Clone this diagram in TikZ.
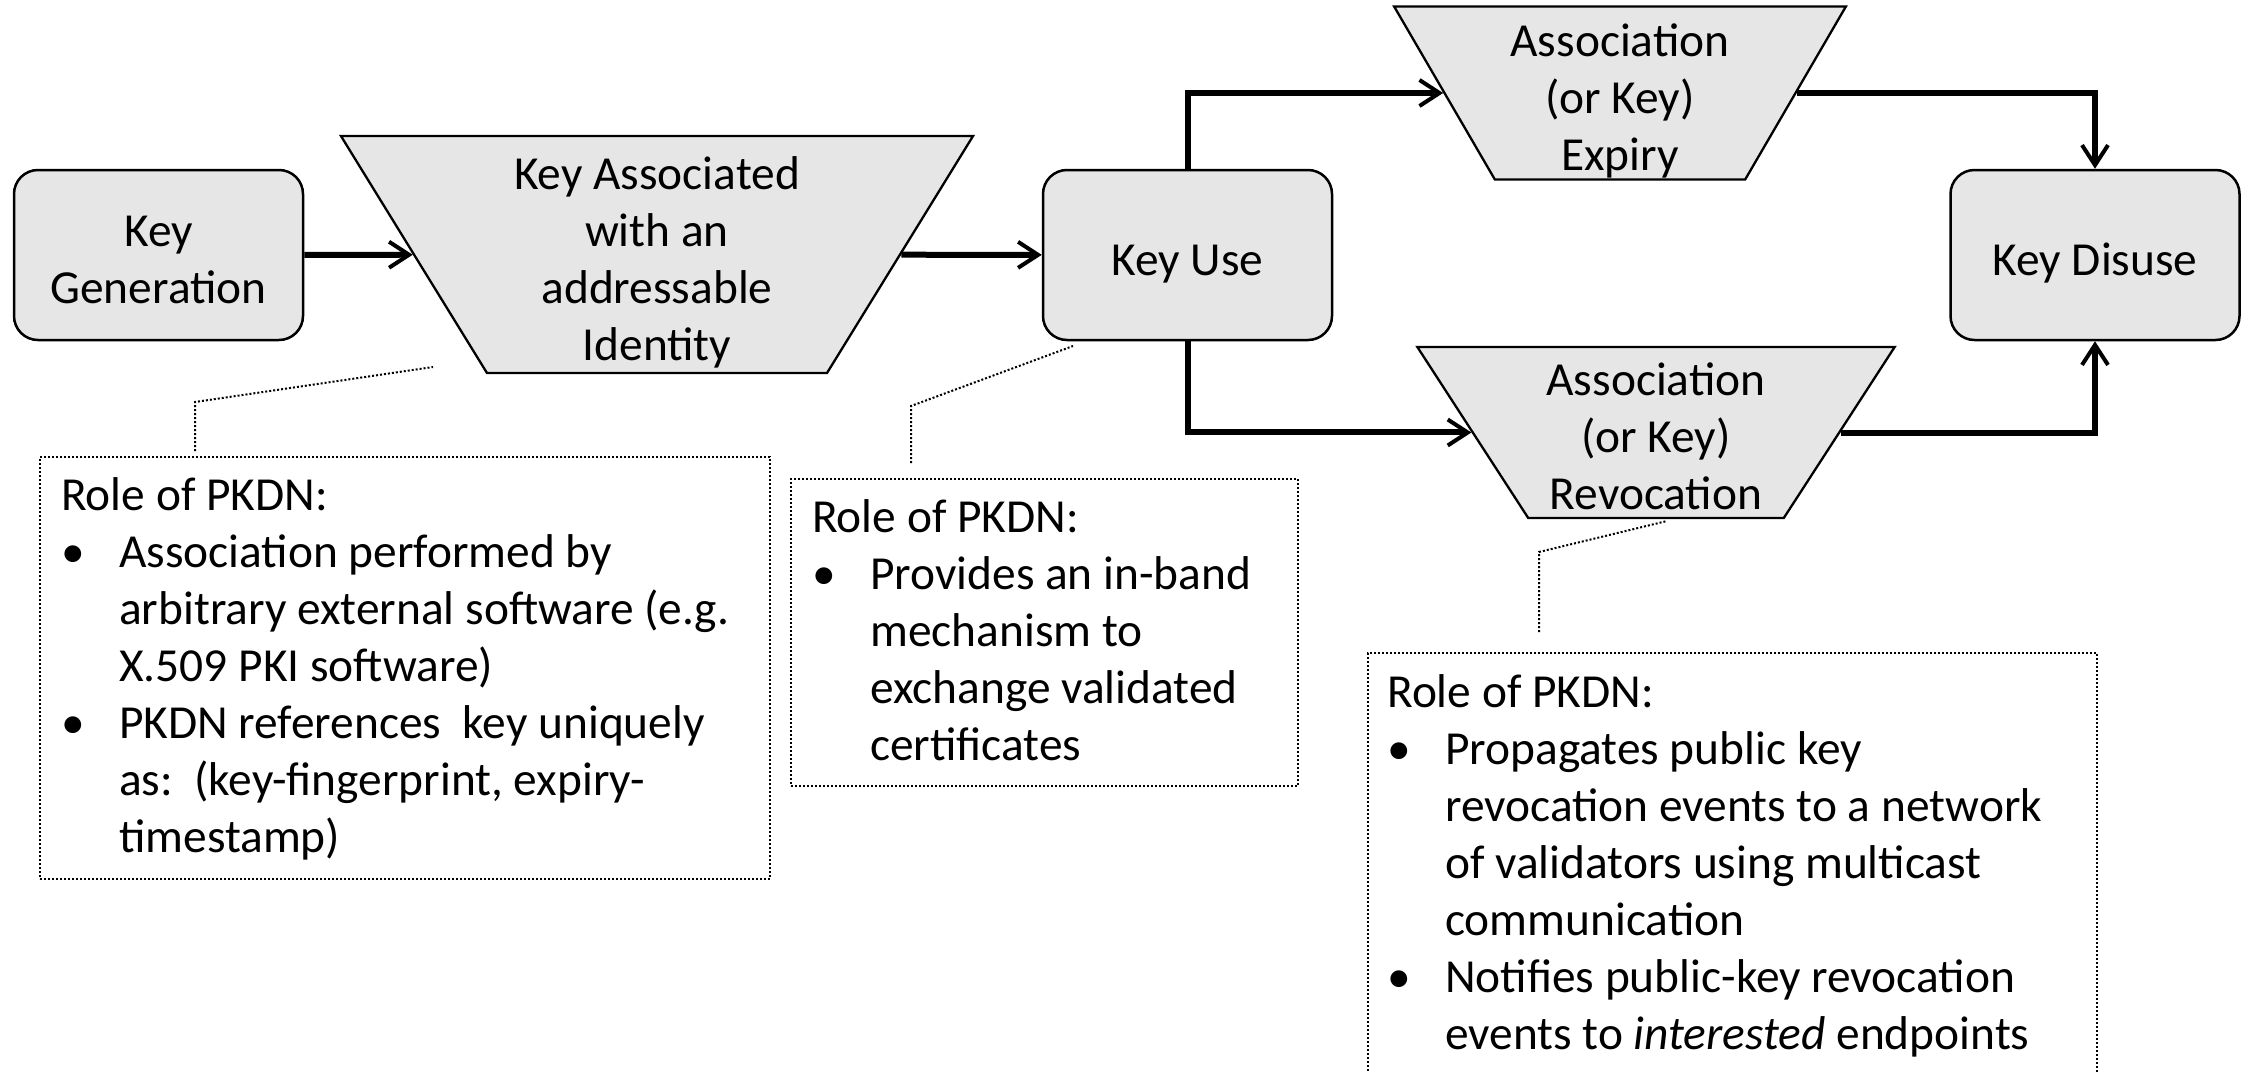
\documentclass[tikz,border=0pt]{standalone}
\usepackage{fontspec}
\setmainfont{Carlito}
\usetikzlibrary{shapes.geometric,arrows.meta,calc}
\definecolor{stagefill}{RGB}{230,230,230}
% bullet and continuation indents for the role lists
\newcommand{\bitem}{\makebox[58pt][l]{\textbullet}}
\newcommand{\bcont}{\hspace*{58pt}}
% fixed first-line height and last-line depth for stage labels
\newcommand{\tstrut}{\rule{0pt}{48pt}}
\newcommand{\bstrut}{\rule[-8pt]{0pt}{8pt}}
\begin{document}
\begin{tikzpicture}[x=1pt,y=-1pt,
  every node/.style={font=\fontsize{47.4pt}{57pt}\selectfont},
  stagebox/.style={draw, line width=2.5pt, fill=stagefill, rounded corners=24pt,
    minimum width=289pt, minimum height=170pt, inner sep=0pt, align=center},
  stagetrap/.style={draw, line width=2.3pt, fill=stagefill, trapezium,
    shape border rotate=180, trapezium stretches=true, inner sep=0pt, align=center},
  flow/.style={line width=6pt, line join=miter,
    -{Straight Barb[length=20pt,width=26pt,line width=4pt]}},
  rolebox/.style={draw, line width=2pt, dash pattern=on 2pt off 2pt,
    anchor=north west, inner sep=0pt},
  roletext/.style={anchor=base west, inner sep=0pt},
  callout/.style={line width=2pt, dash pattern=on 2pt off 2pt},
]
\useasboundingbox (0,0) rectangle (2249,1073);
\fill[white] (0,0) rectangle (2249,1073);

% life-cycle stages
\node[stagebox] (kg) at (158.5,255) {\tstrut Key\\Generation\bstrut};
\node[stagetrap, minimum width=634pt, minimum height=237pt, trapezium angle=61.6]
  (ka) at (657,254.5) {\tstrut Key Associated\\with an\\addressable\\Identity\bstrut};
\node[stagebox] (ku) at (1187.5,255) {\tstrut Key Use\bstrut};
\node[stagetrap, minimum width=454pt, minimum height=173pt, trapezium angle=62.6]
  (ex) at (1620,93) {\tstrut Association\\(or Key)\\Expiry\bstrut};
\node[stagetrap, minimum width=478pt, minimum height=171pt, trapezium angle=60.8]
  (rv) at (1656,432.5) {\tstrut Association\\(or Key)\\Revocation\bstrut};
\node[stagebox] (kd) at (2095,255) {\tstrut Key Disuse\bstrut};

% transitions
\draw[flow] (kg) -- (ka);
\draw[flow] (ka) -- (ku);
\draw[flow] (ku) |- (ex);
\draw[flow] (ex) -| (kd);
\draw[flow] (ku) |- (rv);
\draw[flow] (rv) -| (kd);

% role boxes
\node[rolebox, minimum width=730pt, minimum height=422pt] (b1) at (39,456) {};
\node[roletext] (t1) at (61,510) {\parbox[t]{760pt}{%
Role of PKDN:\\
\bitem Association performed by\\
\bcont arbitrary external software (e.g.\\
\bcont X.509 PKI software)\\
\bitem PKDN references~~key uniquely\\
\bcont as:~~(key-fingerprint, expiry-\\
\bcont timestamp)}};

\node[rolebox, minimum width=507pt, minimum height=307pt] (b2) at (790,478) {};
\node[roletext] (t2) at (812,532) {\parbox[t]{760pt}{%
Role of PKDN:\\
\bitem Provides an in-band\\
\bcont mechanism to\\
\bcont exchange validated\\
\bcont certificates}};

\node[rolebox, minimum width=729pt, minimum height=450pt] (b3) at (1367,652) {};
\node[roletext] (t3) at (1387,707) {\parbox[t]{760pt}{%
Role of PKDN:\\
\bitem Propagates public key\\
\bcont revocation events to a network\\
\bcont of validators using multicast\\
\bcont communication\\
\bitem Notifies public-key revocation\\
\bcont events to \textit{interested} endpoints}};

% callout leaders
\coordinate (k1) at (195,402);  \coordinate (e1) at (433,367);
\coordinate (k2) at (911,406);  \coordinate (e2) at (1073,346);
\coordinate (k3) at (1539,552); \coordinate (e3) at (1667,521);
\draw[callout, shorten <=5pt]  (b1.north -| k1) -- (k1) -- (e1);
\draw[callout, shorten <=15pt] (b2.north -| k2) -- (k2) -- (e2);
\draw[callout, shorten <=20pt] (b3.north -| k3) -- (k3) -- (e3);
\end{tikzpicture}
\end{document}
